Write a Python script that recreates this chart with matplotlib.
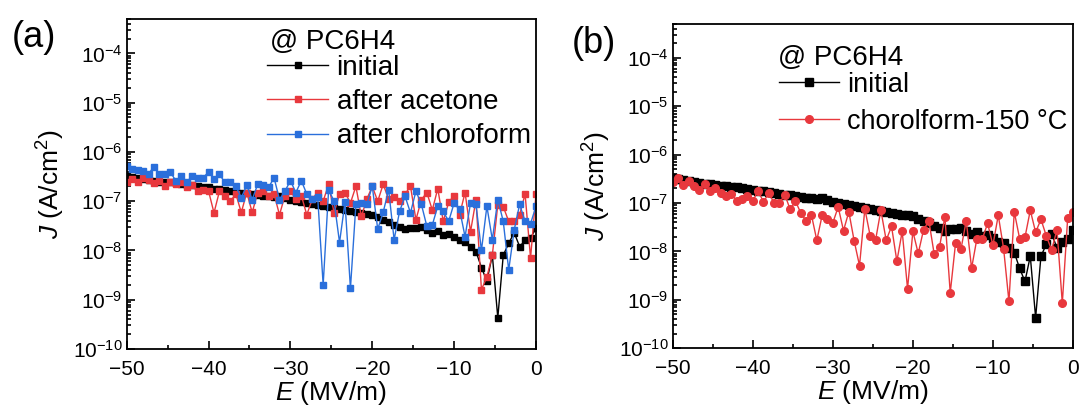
import numpy as np
import matplotlib
matplotlib.use("Agg")
import matplotlib.pyplot as plt
from matplotlib.ticker import MultipleLocator, LogLocator, NullFormatter

plt.rcParams['font.family'] = ['Liberation Sans', 'DejaVu Sans']
plt.rcParams['mathtext.fontset'] = 'custom'
plt.rcParams['mathtext.rm'] = 'Liberation Sans'
plt.rcParams['mathtext.it'] = 'Liberation Sans:italic'

# field grid, 76 steps from -50 to 0 MV/m
E = np.linspace(-50, 0, 76)

# current density, A/cm^2
j_initial = [
    3.3e-7, 3.1e-7, 3.0e-7, 2.8e-7, 2.7e-7, 2.6e-7, 2.5e-7, 2.45e-7, 2.4e-7, 2.3e-7,
    2.2e-7, 2.15e-7, 2.1e-7, 2.0e-7, 1.95e-7, 1.9e-7, 1.8e-7, 1.75e-7, 1.7e-7, 1.6e-7,
    1.55e-7, 1.5e-7, 1.45e-7, 1.4e-7, 1.35e-7, 1.3e-7, 1.25e-7, 1.2e-7, 1.25e-7, 1.15e-7,
    1.07e-7, 1.0e-7, 9.6e-8, 9.2e-8, 8.8e-8, 8.4e-8, 8.0e-8, 7.6e-8, 7.2e-8, 6.9e-8,
    6.6e-8, 6.3e-8, 6.0e-8, 5.8e-8, 5.6e-8, 5.3e-8, 4.7e-8, 4.2e-8, 3.8e-8, 3.3e-8,
    3.0e-8, 2.7e-8, 2.9e-8, 2.9e-8, 3.0e-8, 2.6e-8, 2.3e-8, 2.5e-8, 2.1e-8, 2.2e-8,
    1.9e-8, 1.6e-8, 1.5e-8, 1.2e-8, 9.5e-9, 4.5e-9, 2.4e-9, 8.0e-9, 4.3e-10, 8.0e-9,
    1.4e-8, 2.3e-8, 1.2e-8, 1.6e-8, 1.8e-8, 2.8e-8,
]

j_acetone = [
    2.4e-7, 2.8e-7, 2.5e-7, 2.9e-7, 2.7e-7, 2.3e-7, 2.6e-7, 2.0e-7, 2.4e-7, 2.2e-7,
    2.5e-7, 1.9e-7, 2.1e-7, 1.6e-7, 1.7e-7, 1.6e-7, 5.8e-8, 1.6e-7, 1.3e-7, 1.0e-7,
    1.4e-7, 5.9e-8, 1.5e-7, 5.9e-8, 1.5e-7, 1.6e-7, 1.3e-7, 1.4e-7, 5.3e-8, 1.3e-7,
    1.6e-7, 1.1e-7, 1.3e-7, 5.3e-8, 1.1e-7, 1.5e-7, 1.0e-7, 2.2e-7, 5.8e-8, 1.4e-7,
    1.5e-7, 9.2e-8, 2.0e-7, 4.9e-8, 1.1e-7, 2.0e-7, 1.0e-7, 2.2e-7, 1.1e-7, 1.2e-7,
    1.0e-7, 1.4e-7, 2.0e-7, 4.2e-8, 1.07e-7, 1.5e-7, 6.6e-8, 1.8e-7, 3.9e-8, 9.5e-8,
    1.3e-7, 5.3e-8, 1.5e-7, 2.4e-8, 1.07e-7, 1.6e-9, 2.9e-9, 8.1e-9, 8.5e-8, 7.7e-8,
    3.9e-8, 3.9e-8, 5.3e-8, 1.4e-7, 7.0e-9, 1.4e-7,
]

j_chloroform = [
    5.2e-7, 4.4e-7, 4.3e-7, 4.1e-7, 3.6e-7, 5.0e-7, 3.6e-7, 3.5e-7, 3.9e-7, 2.6e-7,
    3.2e-7, 2.4e-7, 3.3e-7, 2.9e-7, 3.0e-7, 3.9e-7, 2.8e-7, 3.5e-7, 2.4e-7, 2.4e-7,
    2.0e-7, 1.17e-7, 2.1e-7, 1.08e-7, 2.2e-7, 2.1e-7, 1.9e-7, 3.0e-7, 1.08e-7, 1.6e-7,
    2.6e-7, 1.5e-7, 2.6e-7, 1.4e-7, 1.1e-7, 1.2e-7, 2.0e-9, 1.7e-7, 1.0e-7, 1.45e-8,
    9.5e-8, 1.7e-9, 8.6e-8, 9.2e-8, 8.6e-8, 2.0e-7, 2.7e-8, 6.0e-8, 1.7e-7, 1.65e-8,
    6.2e-8, 1.26e-7, 5.8e-8, 1.6e-7, 8.6e-8, 3.1e-8, 3.3e-8, 7.9e-8, 6.2e-8, 3.9e-8,
    9.2e-8, 6.8e-8, 1.9e-8, 9.2e-8, 8.6e-8, 1.0e-8, 7.9e-8, 1.65e-8, 1.08e-7, 3.9e-8,
    4.0e-9, 2.6e-8, 8.6e-8, 3.9e-8, 3.5e-8, 7.9e-8,
]

j_chcl3_150 = [
    2.7e-7, 3.3e-7, 2.4e-7, 2.8e-7, 2.2e-7, 1.9e-7, 2.5e-7, 1.8e-7, 2.0e-7, 1.6e-7,
    1.4e-7, 1.55e-7, 1.1e-7, 1.2e-7, 1.4e-7, 1.1e-7, 1.8e-7, 1.05e-7, 1.6e-7, 1.0e-7,
    1.0e-7, 1.5e-7, 7.4e-8, 1.1e-7, 6.2e-8, 4.3e-8, 5.6e-8, 1.7e-8, 5.6e-8, 4.6e-8,
    3.9e-8, 8.3e-8, 2.7e-8, 6.6e-8, 1.65e-8, 5.1e-9, 7.6e-8, 2.1e-8, 1.7e-8, 7.1e-8,
    1.7e-8, 3.3e-8, 6.3e-9, 2.6e-8, 1.7e-9, 2.6e-8, 9.1e-9, 2.8e-8, 4.3e-8, 8.7e-9,
    1.25e-8, 5.2e-8, 1.4e-9, 1.5e-8, 1.1e-8, 4.3e-8, 4.5e-9, 1.85e-8, 1.8e-8, 3.8e-8,
    1.35e-8, 5.6e-8, 1.15e-8, 9.3e-10, 6.6e-8, 1.85e-8, 1.95e-8, 7.1e-8, 2.5e-8, 4.6e-8,
    2.1e-8, 1.07e-8, 2.8e-8, 8.5e-10, 4.8e-8, 6.6e-8,
]

RED = '#e8383d'
BLUE = '#2a6fdb'

fig = plt.figure(figsize=(10.8, 4.09), dpi=100)
ax1 = fig.add_axes([0.1173, 0.1467, 0.379, 0.807])
ax2 = fig.add_axes([0.6229, 0.1484, 0.3706, 0.793])


def style_axis(ax):
    ax.set_yscale('log')
    ax.set_xlim(-50, 0)
    ax.set_ylim(1e-10, 5e-4)
    ax.xaxis.set_major_locator(MultipleLocator(10))
    ax.xaxis.set_minor_locator(MultipleLocator(5))
    ax.yaxis.set_major_locator(LogLocator(base=10, numticks=20))
    ax.yaxis.set_minor_locator(LogLocator(base=10, subs=np.arange(2, 10), numticks=20))
    ax.yaxis.set_minor_formatter(NullFormatter())
    ax.tick_params(which='both', direction='in', top=False, right=False, labelsize=15, width=1.2)
    ax.tick_params(which='major', length=6)
    ax.tick_params(which='minor', length=3)
    ax.tick_params(axis='x', pad=8)
    ax.tick_params(axis='y', pad=3)
    for s in ax.spines.values():
        s.set_linewidth(1.3)
    ax.set_xlabel('$E$ (MV/m)', fontsize=19, labelpad=0)
    ax.set_ylabel('$J$ (A/cm$^2$)', fontsize=19, labelpad=4)


# (a)
ax1.plot(E, j_initial, '-s', color='black', ms=5, lw=1.0, label='initial')
ax1.plot(E, j_acetone, '-s', color=RED, ms=5, lw=1.0, label='after acetone')
ax1.plot(E, j_chloroform, '-s', color=BLUE, ms=5, lw=1.0, label='after chloroform')
style_axis(ax1)
ax1.legend(loc='upper left', bbox_to_anchor=(0.343, 0.892), frameon=False, fontsize=20,
           numpoints=1, handlelength=2.2, handletextpad=0.3, labelspacing=0.3,
           borderpad=0, borderaxespad=0)
ax1.text(0.35, 0.93, '@ PC6H4', transform=ax1.transAxes, fontsize=20, va='center', ha='left')

# (b)
ax2.plot(E, j_initial, '-s', color='black', ms=5.5, lw=1.0, label='initial')
ax2.plot(E, j_chcl3_150, '-o', color=RED, ms=5.5, lw=1.0, label='chorolform-150 \u00b0C')
style_axis(ax2)
ax2.legend(loc='upper left', bbox_to_anchor=(0.266, 0.852), frameon=False, fontsize=19.5,
           numpoints=1, handlelength=2.2, handletextpad=0.3, labelspacing=0.4,
           borderpad=0, borderaxespad=0)
ax2.text(0.263, 0.895, '@ PC6H4', transform=ax2.transAxes, fontsize=20, va='center', ha='left')

fig.text(0.011, 0.885, '(a)', fontsize=26)
fig.text(0.529, 0.87, '(b)', fontsize=26)

fig.savefig('out.png', dpi=100)
